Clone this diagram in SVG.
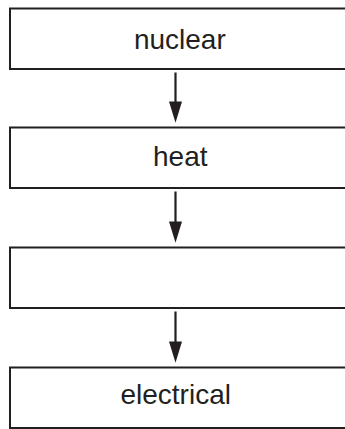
<svg xmlns="http://www.w3.org/2000/svg" width="345" height="429" viewBox="0 0 345 429">
<defs>
<style>
.box{fill:#fff;stroke:#231f20;stroke-width:2}
.lbl{font-family:"Liberation Sans",Arial,sans-serif;font-size:28px;fill:#231f20;text-anchor:middle}
.conn{stroke:#231f20;stroke-width:2.2;fill:none}
.head{fill:#231f20}
</style>
</defs>
<rect width="345" height="429" fill="#fff"/>
<g id="node-nuclear"><rect class="box" x="10" y="8.5" width="345" height="60.5"/><text class="lbl" x="179.8" y="49.3">nuclear</text></g>
<g id="node-heat"><rect class="box" x="10" y="127.5" width="345" height="60.5"/><text class="lbl" x="180.3" y="166">heat</text></g>
<g id="node-blank"><rect class="box" x="10" y="247.5" width="345" height="60.5"/></g>
<g id="node-electrical"><rect class="box" x="10" y="367.5" width="345" height="60.5"/><text class="lbl" x="175.7" y="404.3">electrical</text></g>
<g id="connectors">
<line class="conn" x1="175.5" y1="72.5" x2="175.5" y2="103"/><polygon class="head" points="169,101.5 182,101.5 175.5,122.7"/>
<line class="conn" x1="175.5" y1="191.5" x2="175.5" y2="223"/><polygon class="head" points="169,221.5 182,221.5 175.5,242.7"/>
<line class="conn" x1="175.5" y1="311.5" x2="175.5" y2="343"/><polygon class="head" points="169,341.5 182,341.5 175.5,362.7"/>
</g>
</svg>
